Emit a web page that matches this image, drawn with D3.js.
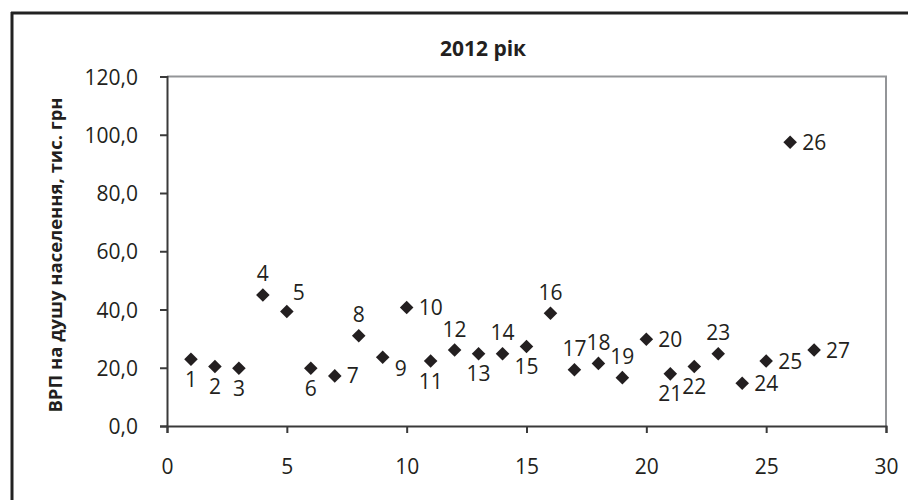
<!DOCTYPE html>
<html><head><meta charset="utf-8">
<script src="https://cdn.jsdelivr.net/npm/d3@7/dist/d3.min.js"></script>
<style>body{margin:0;background:#fff}svg{display:block}</style>
</head><body>
<script>
const regions = d3.range(1, 28);
const grpValues = [22.9, 20.4, 19.8, 45.0, 39.3, 19.8, 17.2, 31.0, 23.6, 40.7, 22.3, 26.1, 24.8, 24.8, 27.3, 38.7, 19.3, 21.5, 16.6, 29.8, 17.9, 20.4, 24.8, 14.7, 22.3, 97.4, 26.1];
const labelPlacement = ["b","b","b","t","tr","b","r","t","br","r","b","t","b","t","b","t","t","t","t","r","b","b","t","r","r","r","r"];
const yTicks = [0, 20, 40, 60, 80, 100, 120];
const xTicks = [0, 5, 10, 15, 20, 25, 30];
const title = "2012 рік";
const yTitle = "ВРП на душу населення, тис. грн";

const W = 908, H = 500;
const ink = "#231f20";
const font = "'Open Sans', 'Noto Sans', sans-serif";
const svg = d3.select("body").append("svg").attr("width", W).attr("height", H);

const x = d3.scaleLinear().domain([0, 30]).range([167, 886]);
const y = d3.scaleLinear().domain([0, 120]).range([426, 76.5]);

// outer frame
svg.append("line").attr("x1", 12).attr("x2", 12).attr("y1", 12).attr("y2", H)
  .attr("stroke", "#222").attr("stroke-width", 3);
svg.append("line").attr("x1", 11).attr("x2", W).attr("y1", 13).attr("y2", 13)
  .attr("stroke", "#222").attr("stroke-width", 3);

// plot frame (top/right gray)
svg.append("path")
  .attr("d", `M${x(0)},${y(120)}H${x(30)}V${y(0)}`)
  .attr("fill", "none").attr("stroke", "#939598").attr("stroke-width", 2);

// y axis
const yAxis = svg.append("g").attr("transform", `translate(${x(0)},0)`)
  .call(d3.axisLeft(y).tickValues(yTicks).tickSize(7).tickPadding(22)
    .tickFormat(d => d3.format(".1f")(d).replace(".", ",")));
yAxis.select(".domain").attr("stroke", "#3a3a3a").attr("stroke-width", 2);
yAxis.selectAll(".tick line").attr("stroke", "#3a3a3a").attr("stroke-width", 2);
yAxis.selectAll(".tick text").attr("fill", ink).attr("font-family", font).attr("font-size", 21)
  .attr("dy", "0.36em");

// x axis
const xAxis = svg.append("g").attr("transform", `translate(0,${y(0)})`)
  .call(d3.axisBottom(x).tickValues(xTicks).tickSize(7).tickPadding(26).tickFormat(d3.format("d")));
xAxis.select(".domain").attr("stroke", "#3a3a3a").attr("stroke-width", 2);
xAxis.selectAll(".tick line").attr("stroke", "#3a3a3a").attr("stroke-width", 2);
xAxis.selectAll(".tick text").attr("fill", ink).attr("font-family", font).attr("font-size", 21);

// titles
svg.append("text").attr("x", 483).attr("y", 48).attr("dy", "0.36em").attr("text-anchor", "middle")
  .attr("font-family", font).attr("font-weight", 700).attr("font-size", 21).attr("fill", ink).text(title);
svg.append("text").attr("transform", `translate(55,255) rotate(-90)`).attr("dy", "0.36em")
  .attr("text-anchor", "middle").attr("font-family", font).attr("font-weight", 700)
  .attr("font-size", 18.5).attr("fill", ink).text(yTitle);

// points
const data = regions.map((r, i) => ({ r, v: grpValues[i], p: labelPlacement[i] }));
const sym = d3.symbol().type(d3.symbolSquare).size(92);
svg.append("g").selectAll("path").data(data).join("path")
  .attr("d", sym)
  .attr("transform", d => `translate(${x(d.r)},${y(d.v)}) rotate(45)`)
  .attr("fill", ink);

const off = {
  b: { dx: 0, dy: 20, a: "middle" },
  t: { dx: 0, dy: -21, a: "middle" },
  r: { dx: 12, dy: 0, a: "start" },
  tr: { dx: 12, dy: -19, a: "middle" },
  br: { dx: 18, dy: 11, a: "middle" }
};
svg.append("g").selectAll("text").data(data).join("text")
  .attr("x", d => x(d.r) + off[d.p].dx)
  .attr("y", d => y(d.v) + off[d.p].dy)
  .attr("dy", "0.36em")
  .attr("text-anchor", d => off[d.p].a)
  .attr("font-family", font).attr("font-size", 21).attr("fill", ink)
  .text(d => d.r);
</script>
</body></html>
